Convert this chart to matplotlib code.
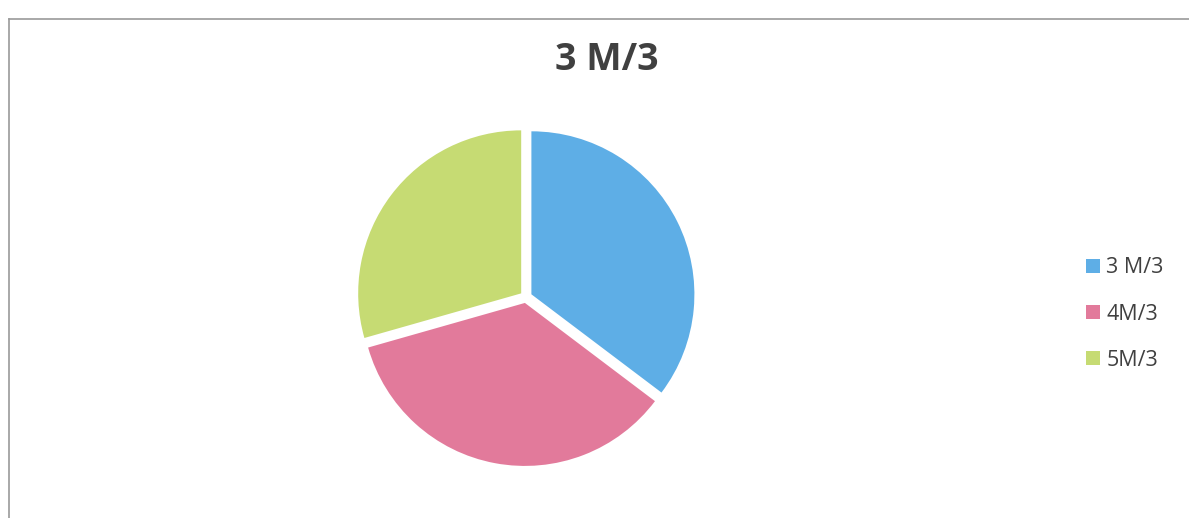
import matplotlib
matplotlib.use("Agg")
import matplotlib.pyplot as plt
from matplotlib.lines import Line2D

labels = ["3 M/3", "4M/3", "5M/3"]
values = [12, 12, 10]
colors = ["#5EAEE6", "#E27A9B", "#C6DB73"]
title = "3 M/3"

W, H = 1189, 518
fig = plt.figure(figsize=(W / 100, H / 100), dpi=100)
fig.patch.set_facecolor("white")

# chart frame
fig.add_artist(Line2D([9 / W, 1.0], [1 - 19 / H, 1 - 19 / H], color="#9a9a9a", lw=1.2))
fig.add_artist(Line2D([9 / W, 9 / W], [1 - 19 / H, 0.0], color="#9a9a9a", lw=1.2))

cx, cy, r = 526, 297, 163
half = 1.1 * r
ax = fig.add_axes([(cx - half) / W, (H - cy - half) / H, 2 * half / W, 2 * half / H])
wedges, _ = ax.pie(values, colors=colors, startangle=90, counterclock=False,
                   explode=[0.037] * len(values), radius=1.0,
                   wedgeprops=dict(linewidth=0))
ax.set_xlim(-1.1, 1.1)
ax.set_ylim(-1.1, 1.1)
ax.set_aspect("equal")
ax.axis("off")

fig.text(607 / W, 1 - 60 / H, title, ha="center", va="center",
         fontsize=27, fontweight="bold", color="#404040", family="Open Sans")

leg = fig.legend(wedges, labels, loc="center left",
                 bbox_to_anchor=(1086 / W, 1 - 314 / H), frameon=False,
                 prop={"family": "Open Sans", "size": 15.5},
                 labelspacing=1.17, handlelength=0.65, handleheight=0.65,
                 handletextpad=0.3, borderpad=0, borderaxespad=0)
for t in leg.get_texts():
    t.set_color("#404040")

fig.savefig("out.png", dpi=100, facecolor="white")
